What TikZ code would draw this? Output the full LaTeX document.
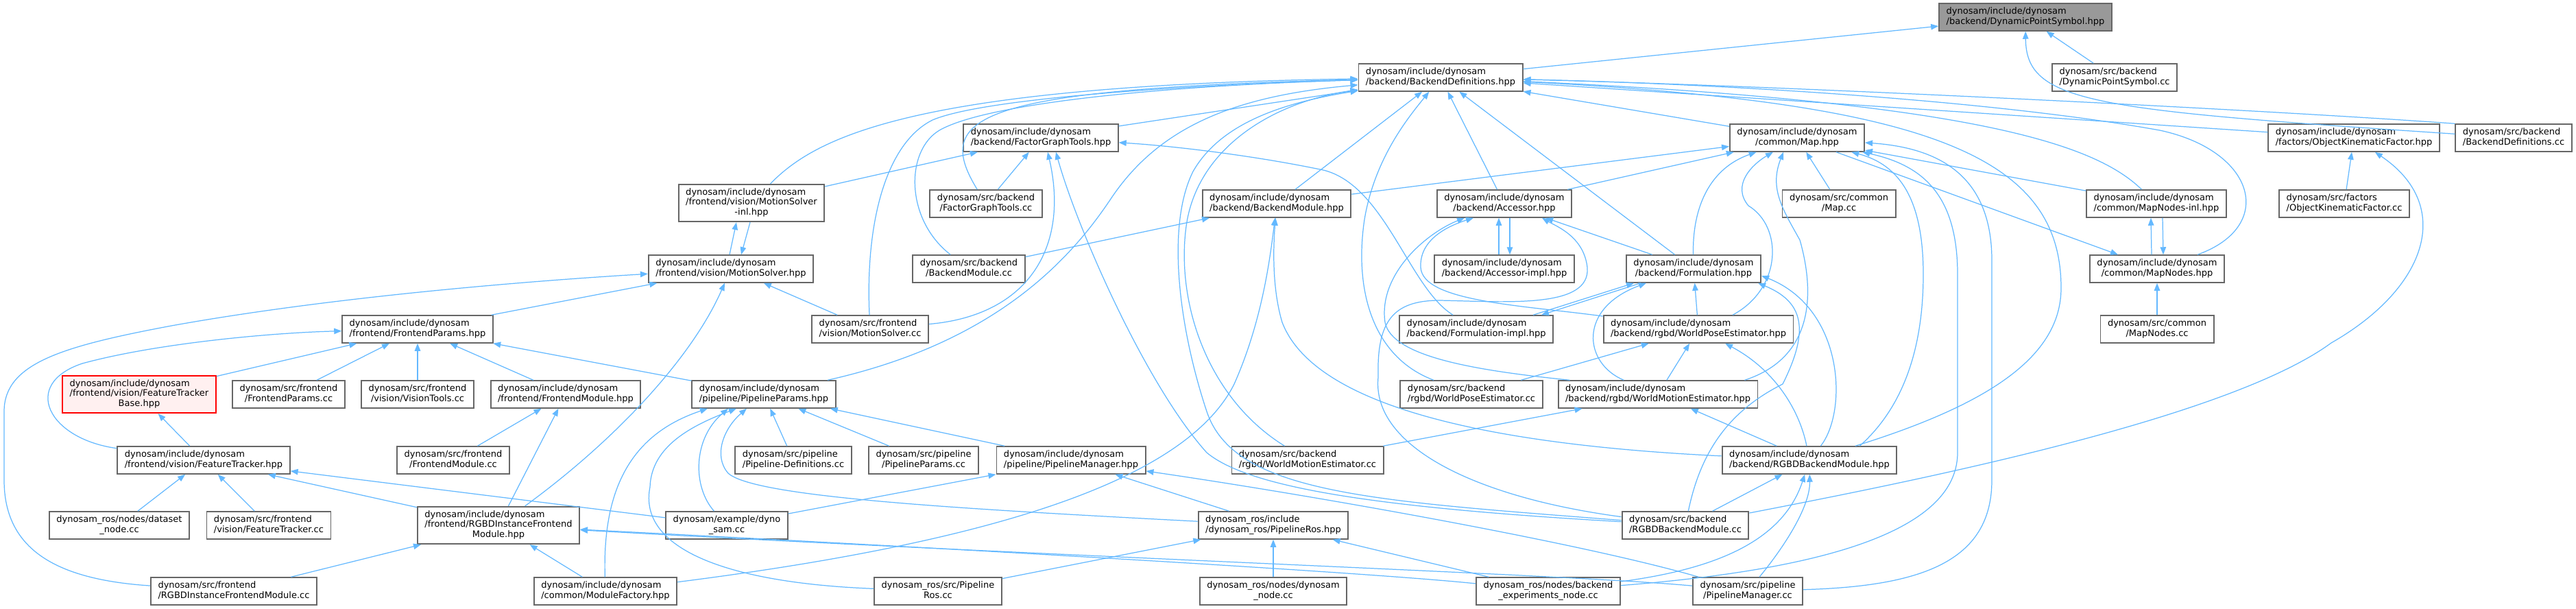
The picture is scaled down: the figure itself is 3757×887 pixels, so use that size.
\documentclass[tikz,border=0pt]{standalone}
\usepackage{fontspec}
\setmainfont{DejaVu Sans}
\usetikzlibrary{calc, positioning}
\usetikzlibrary{arrows.meta}
\definecolor{edgeblue}{HTML}{63B8FF}
\definecolor{boxgray}{HTML}{666666}
\definecolor{rootgray}{HTML}{999999}
\definecolor{cutfill}{HTML}{FFF0F0}
\newcommand{\ftwo}[2]{\begin{tabular}{@{}l@{}}#1\\\multicolumn{1}{@{}c@{}}{#2}\end{tabular}}
\newcommand{\fthree}[3]{\begin{tabular}{@{}l@{}}#1\\#2\\\multicolumn{1}{@{}c@{}}{#3}\end{tabular}}

\begin{document}
\begin{tikzpicture}[x=0.01cm, y=-0.01cm,
  hdr/.style={draw=boxgray, fill=white, line width=0.55pt, inner xsep=0.105cm, inner ysep=0.05cm, font=\fontsize{3.7}{4.2}\selectfont},
  rootnode/.style={hdr, fill=rootgray},
  cutnode/.style={hdr, draw=red, fill=cutfill},
  dep/.style={draw=edgeblue, line width=0.35pt, -{Triangle[length=0.11cm, width=0.085cm]}}]
\useasboundingbox (0,0) rectangle (3757,887);
\def\inc{dynosam/include/dynosam}
% rank 0 to 2
\node[rootnode] (dps) at (2954,25) {\ftwo{\inc}{/backend/DynamicPointSymbol.hpp}};
\node[hdr] (bdefs) at (2101,113) {\ftwo{\inc}{/backend/BackendDefinitions.hpp}};
\node[hdr] (dpscc) at (3084,113) {\ftwo{dynosam/src/backend}{/DynamicPointSymbol.cc}};
\node[hdr] (fgt) at (1518,201) {\ftwo{\inc}{/backend/FactorGraphTools.hpp}};
\node[hdr] (map) at (2621,201) {\ftwo{\inc}{/common/Map.hpp}};
\node[hdr] (okf) at (3433,201) {\ftwo{\inc}{/factors/ObjectKinematicFactor.hpp}};
\node[hdr] (bdefscc) at (3666,201) {\ftwo{dynosam/src/backend}{/BackendDefinitions.cc}};
% rank 3 and 4
\node[hdr] (msinl) at (1096,296) {\fthree{\inc}{/frontend/vision/MotionSolver}{-inl.hpp}};
\node[hdr] (fgtcc) at (1438,297) {\ftwo{dynosam/src/backend}{/FactorGraphTools.cc}};
\node[hdr] (bmod) at (1862,297) {\ftwo{\inc}{/backend/BackendModule.hpp}};
\node[hdr] (acc) at (2194,297) {\ftwo{\inc}{/backend/Accessor.hpp}};
\node[hdr] (mapcc) at (2682,297) {\ftwo{dynosam/src/common}{/Map.cc}};
\node[hdr] (mninl) at (3145,297) {\ftwo{\inc}{/common/MapNodes-inl.hpp}};
\node[hdr] (okfcc) at (3419,297) {\ftwo{dynosam/src/factors}{/ObjectKinematicFactor.cc}};
\node[hdr] (ms) at (1066,392) {\ftwo{\inc}{/frontend/vision/MotionSolver.hpp}};
\node[hdr] (bmodcc) at (1413,392) {\ftwo{dynosam/src/backend}{/BackendModule.cc}};
\node[hdr] (accimpl) at (2194,392) {\ftwo{\inc}{/backend/Accessor-impl.hpp}};
\node[hdr] (form) at (2470,392) {\ftwo{\inc}{/backend/Formulation.hpp}};
\node[hdr] (mn) at (3146,392) {\ftwo{\inc}{/common/MapNodes.hpp}};
% rank 5 and 6
\node[hdr] (fp) at (609,480) {\ftwo{\inc}{/frontend/FrontendParams.hpp}};
\node[hdr] (mscc) at (1269,480) {\ftwo{dynosam/src/frontend}{/vision/MotionSolver.cc}};
\node[hdr] (formimpl) at (2153,480) {\ftwo{\inc}{/backend/Formulation-impl.hpp}};
\node[hdr] (wpe) at (2477,480) {\ftwo{\inc}{/backend/rgbd/WorldPoseEstimator.hpp}};
\node[hdr] (mncc) at (3146,480) {\ftwo{dynosam/src/common}{/MapNodes.cc}};
\node[cutnode] (ftb) at (203,575) {\fthree{\inc}{/frontend/vision/FeatureTracker}{Base.hpp}};
\node[hdr] (fpcc) at (421,575) {\ftwo{dynosam/src/frontend}{/FrontendParams.cc}};
\node[hdr] (vt) at (609,575) {\ftwo{dynosam/src/frontend}{/vision/VisionTools.cc}};
\node[hdr] (fmod) at (825,575) {\ftwo{\inc}{/frontend/FrontendModule.hpp}};
\node[hdr] (pp) at (1114,575) {\ftwo{\inc}{/pipeline/PipelineParams.hpp}};
\node[hdr] (wpecc) at (2146,575) {\ftwo{dynosam/src/backend}{/rgbd/WorldPoseEstimator.cc}};
\node[hdr] (wme) at (2418,575) {\ftwo{\inc}{/backend/rgbd/WorldMotionEstimator.hpp}};
% rank 7 to 9
\node[hdr] (ft) at (297,671) {\ftwo{\inc}{/frontend/vision/FeatureTracker.hpp}};
\node[hdr] (fmodcc) at (661,671) {\ftwo{dynosam/src/frontend}{/FrontendModule.cc}};
\node[hdr] (pdefcc) at (1157,671) {\ftwo{dynosam/src/pipeline}{/Pipeline-Definitions.cc}};
\node[hdr] (ppcc) at (1347,671) {\ftwo{dynosam/src/pipeline}{/PipelineParams.cc}};
\node[hdr] (pm) at (1562,671) {\ftwo{\inc}{/pipeline/PipelineManager.hpp}};
\node[hdr] (wmecc) at (1907,671) {\ftwo{dynosam/src/backend}{/rgbd/WorldMotionEstimator.cc}};
\node[hdr] (rgbdbm) at (2639,671) {\ftwo{\inc}{/backend/RGBDBackendModule.hpp}};
\node[hdr] (dsnode) at (174,766) {\ftwo{dynosam\_ros/nodes/dataset}{\_node.cc}};
\node[hdr] (ftcc) at (392,766) {\ftwo{dynosam/src/frontend}{/vision/FeatureTracker.cc}};
\node[hdr] (rgbdfm) at (727,766) {\fthree{\inc}{/frontend/RGBDInstanceFrontend}{Module.hpp}};
\node[hdr] (dynosamcc) at (1060,766) {\ftwo{dynosam/example/dyno}{\_sam.cc}};
\node[hdr] (pros) at (1857,766) {\ftwo{dynosam\_ros/include}{/dynosam\_ros/PipelineRos.hpp}};
\node[hdr] (rgbdbmcc) at (2458,766) {\ftwo{dynosam/src/backend}{/RGBDBackendModule.cc}};
\node[hdr] (rgbdfmcc) at (341,862) {\ftwo{dynosam/src/frontend}{/RGBDInstanceFrontendModule.cc}};
\node[hdr] (mf) at (883,862) {\ftwo{\inc}{/common/ModuleFactory.hpp}};
\node[hdr] (proscc) at (1368,862) {\ftwo{dynosam\_ros/src/Pipeline}{Ros.cc}};
\node[hdr] (dsnodecc) at (1857,862) {\ftwo{dynosam\_ros/nodes/dynosam}{\_node.cc}};
\node[hdr] (benode) at (2258,862) {\ftwo{dynosam\_ros/nodes/backend}{\_experiments\_node.cc}};
\node[hdr] (pmcc) at (2549,862) {\ftwo{dynosam/src/pipeline}{/PipelineManager.cc}};

% DynamicPointSymbol.hpp
\draw[dep] (bdefs) -- (dps);
\draw[dep] (dpscc) -- (dps);
\draw[dep] (bdefscc) .. controls (3050,160) and (2955,150) .. (dps);
% BackendDefinitions.hpp
\draw[dep] (fgt) -- (bdefs);
\draw[dep] (msinl) .. controls (1190,200) and (1330,125) .. (bdefs);
\draw[dep] (fgtcc) .. controls (1360,170) and (1420,130) .. (bdefs);
\draw[dep] (bmodcc) .. controls (1320,320) and (1320,220) .. (1370,190) .. controls (1440,150) and (1700,125) .. (bdefs);
\draw[dep] (mscc) .. controls (1262,330) and (1290,210) .. (1360,175) .. controls (1430,145) and (1700,125) .. (bdefs);
\draw[dep] (pp) .. controls (1450,500) and (1560,380) .. (1620,290) .. controls (1690,185) and (1800,140) .. (bdefs);
\draw[dep] (wmecc) .. controls (1760,580) and (1715,440) .. (1730,330) .. controls (1745,220) and (1850,150) .. (bdefs);
\draw[dep] (rgbdbmcc) .. controls (2000,730) and (1800,720) .. (1760,600) .. controls (1720,480) and (1700,330) .. (1740,250) .. controls (1780,180) and (1870,150) .. (bdefs);
\draw[dep] (bmod) -- (bdefs);
\draw[dep] (acc) -- (bdefs);
\draw[dep] (form) -- (bdefs);
\draw[dep] (map) -- (bdefs);
\draw[dep] (wpecc) .. controls (2000,520) and (1975,420) .. (1990,320) .. controls (2005,230) and (2055,170) .. (bdefs);
\draw[dep] (okf) -- (bdefs);
\draw[dep] (bdefscc.north west) .. controls (3300,160) and (2600,125) .. (bdefs);
\draw[dep] (mninl) .. controls (3060,215) and (2900,150) .. (bdefs);
\draw[dep] ($(mn.north east)+(-40,0)$) .. controls (3320,330) and (3290,220) .. (3150,190) .. controls (2900,145) and (2500,122) .. (bdefs);
\draw[dep] (rgbdbm) .. controls (2900,590) and (3006,520) .. (3006,420) .. controls (3006,230) and (2820,150) .. (bdefs);
% Map.hpp
\draw[dep] (bmod) -- (map);
\draw[dep] (acc) -- (map);
\draw[dep] (form) .. controls (2468,300) and (2495,245) .. (map);
\draw[dep] ($(wpe.north)+(50,0)$) .. controls (2600,420) and (2600,330) .. (2550,300) .. controls (2525,270) and (2555,240) .. (map);
\draw[dep] ($(wme.north east)+(-20,0)$) .. controls (2650,520) and (2645,420) .. (2625,350) .. controls (2600,305) and (2580,275) .. ($(map.south)+(-20,0)$);
\draw[dep] (mapcc) -- (map);
\draw[dep] ($(rgbdbm.north east)+(-55,0)$) .. controls (2780,590) and (2805,500) .. (2805,400) .. controls (2805,290) and (2770,240) .. (map);
\draw[dep] (mninl) -- (map);
\draw[dep] (pmcc) .. controls (2800,855) and (2905,820) .. (2905,700) -- (2905,380) .. controls (2905,250) and (2820,215) .. (map);
\draw[dep] (benode) .. controls (2600,835) and (2855,790) .. (2855,660) -- (2855,400) .. controls (2855,280) and (2800,240) .. (map);
% FactorGraphTools.hpp
\draw[dep] (msinl) -- (fgt);
\draw[dep] (fgtcc) -- (fgt);
\draw[dep] (mscc) .. controls (1500,460) and (1560,360) .. ($(fgt.south)+(10,0)$);
\draw[dep] (rgbdbmcc) .. controls (2000,740) and (1820,710) .. (1760,660) .. controls (1670,560) and (1570,330) .. ($(fgt.south)+(22,0)$);
\draw[dep] (formimpl) .. controls (2055,420) and (2020,270) .. (1930,248) .. controls (1820,225) and (1700,212) .. (fgt);
% BackendModule.hpp
\draw[dep] (bmodcc) -- (bmod);
\draw[dep] (mf) .. controls (1450,790) and (1730,700) .. (1800,560) .. controls (1840,470) and (1852,380) .. (bmod);
\draw[dep] (rgbdbm) .. controls (2200,650) and (1920,600) .. (1870,470) .. controls (1855,420) and (1857,360) .. (bmod);
% MotionSolver.hpp and MotionSolver-inl.hpp
\draw[dep] ($(ms.north)+(-2,0)$) -- ($(msinl.south)+(-22,0)$);
\draw[dep] ($(msinl.south)+(-2,0)$) -- ($(ms.north)+(15,0)$);
\draw[dep] (mscc) -- (ms);
\draw[dep] (fp) -- (ms);
\draw[dep] (rgbdfmcc) .. controls (80,845) and (6,800) .. (6,700) -- (6,600) .. controls (6,530) and (90,505) .. (250,475) .. controls (500,430) and (800,408) .. (ms);
\draw[dep] (rgbdfm) .. controls (900,640) and (1010,520) .. (ms);
% FrontendParams.hpp
\draw[dep] (ftb) -- (fp);
\draw[dep] (fpcc) -- (fp);
\draw[dep] (vt) -- (fp);
\draw[dep] (fmod) -- (fp);
\draw[dep] (pp) -- (fp);
\draw[dep] (ft) .. controls (70,640) and (30,560) .. (120,530) .. controls (230,500) and (400,485) .. (fp);
% FeatureTracker and FrontendModule
\draw[dep] (ft) -- (ftb);
\draw[dep] (dsnode) -- (ft);
\draw[dep] (ftcc) -- (ft);
\draw[dep] (rgbdfm) -- (ft);
\draw[dep] (dynosamcc) -- (ft);
\draw[dep] (fmodcc) -- (fmod);
\draw[dep] (rgbdfm) -- (fmod);
% RGBDInstanceFrontendModule.hpp
\draw[dep] (rgbdfmcc) -- (rgbdfm);
\draw[dep] (mf) -- (rgbdfm);
\draw[dep] (pmcc) .. controls (2300,838) and (1500,810) .. (rgbdfm);
\draw[dep] (benode) .. controls (2000,835) and (1400,800) .. (rgbdfm);
% PipelineParams.hpp
\draw[dep] (pdefcc) -- (pp);
\draw[dep] (ppcc) -- (pp);
\draw[dep] (pm) -- (pp);
\draw[dep] (mf) .. controls (878,700) and (930,630) .. ($(pp.south)+(-82,0)$);
\draw[dep] (dynosamcc) .. controls (1010,710) and (1010,640) .. ($(pp.south)+(-52,0)$);
\draw[dep] (proscc) .. controls (1060,850) and (930,800) .. (948,710) .. controls (950,650) and (1010,620) .. ($(pp.south)+(-40,0)$);
\draw[dep] (pros) .. controls (1400,742) and (1100,725) .. (1062,690) .. controls (1040,665) and (1055,625) .. ($(pp.south)+(-25,0)$);
% PipelineManager.hpp and PipelineRos.hpp
\draw[dep] (dynosamcc) -- (pm);
\draw[dep] (pros) -- (pm);
\draw[dep] (pmcc) .. controls (2300,790) and (1900,720) .. (pm);
\draw[dep] (dsnodecc) -- (pros);
\draw[dep] (proscc) -- (pros);
\draw[dep] (benode) -- (pros);
% RGBDBackendModule.hpp
\draw[dep] (rgbdbmcc) -- (rgbdbm);
\draw[dep] (benode) .. controls (2500,830) and (2600,790) .. (rgbdbm);
\draw[dep] (pmcc) .. controls (2600,800) and (2640,740) .. (rgbdbm);
% WorldPoseEstimator.hpp and WorldMotionEstimator.hpp
\draw[dep] (wpecc) -- (wpe);
\draw[dep] (wme) -- (wpe);
\draw[dep] (rgbdbm) .. controls (2625,600) and (2590,540) .. (wpe);
\draw[dep] (wmecc) -- (wme);
\draw[dep] (rgbdbm) -- (wme);
% Formulation.hpp
\draw[dep] ($(formimpl.north east)+(-30,0)$) -- ($(form.south west)+(12,0)$);
\draw[dep] ($(form.south west)+(22,0)$) -- ($(formimpl.north east)+(-18,0)$);
\draw[dep] (wpe) -- (form);
\draw[dep] (wme) .. controls (2310,530) and (2300,450) .. ($(form.south west)+(30,0)$);
\draw[dep] (rgbdbm) .. controls (2695,600) and (2690,450) .. ($(form.east)+(0,10)$);
\draw[dep] (rgbdbmcc) .. controls (2480,660) and (2520,600) .. (2600,560) .. controls (2640,480) and (2630,440) .. ($(form.south east)+(-5,0)$);
% Accessor.hpp
\draw[dep] ($(accimpl.north)+(-8,0)$) -- ($(acc.south)+(-8,0)$);
\draw[dep] ($(acc.south)+(8,0)$) -- ($(accimpl.north)+(8,0)$);
\draw[dep] (form) -- (acc);
\draw[dep] ($(wme.north west)+(18,0)$) .. controls (2150,540) and (2030,520) .. (2020,470) .. controls (2010,400) and (2080,340) .. ($(acc.south)+(-58,0)$);
\draw[dep] (wpe) .. controls (2220,445) and (2075,440) .. (2072,390) .. controls (2070,350) and (2110,330) .. ($(acc.south)+(-45,0)$);
\draw[dep] (rgbdbmcc) .. controls (2150,725) and (2000,650) .. (2010,550) .. controls (2008,470) and (2030,438) .. (2100,438) .. controls (2200,440) and (2320,450) .. (2315,390) .. controls (2310,345) and (2270,330) .. ($(acc.south)+(55,0)$);
% MapNodes and ObjectKinematicFactor
\draw[dep] (map) -- (mn);
\draw[dep] ($(mn.north)+(-8,0)$) -- ($(mninl.south)+(-8,0)$);
\draw[dep] ($(mninl.south)+(9,0)$) -- ($(mn.north)+(9,0)$);
\draw[dep] (mncc) -- (mn);
\draw[dep] (okfcc) -- (okf);
\draw[dep] (rgbdbmcc) .. controls (2800,700) and (3250,610) .. (3400,500) .. controls (3540,420) and (3580,300) .. (okf);
\end{tikzpicture}
\end{document}
